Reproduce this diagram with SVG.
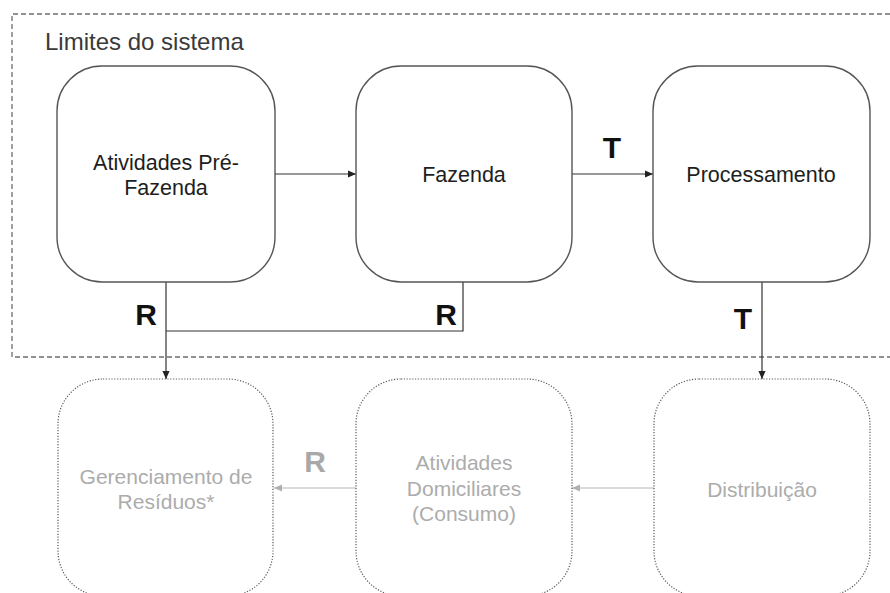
<svg xmlns="http://www.w3.org/2000/svg" width="890" height="593" viewBox="0 0 890 593">
<style>
  text { font-family: "Liberation Sans", Arial, sans-serif; }
  .node { fill: #ffffff; stroke: #555555; stroke-width: 1.4; }
  .ext { fill: none; stroke: #5a5a5a; stroke-width: 1.2; stroke-dasharray: 1.2 1.6; }
  .lbl { font-size: 21.5px; fill: #1e1e1e; text-anchor: middle; }
  .glbl { font-size: 21px; fill: #acacac; text-anchor: middle; }
  .edge { fill: none; stroke: #333333; stroke-width: 1.2; }
  .gedge { fill: none; stroke: #b8b8b8; stroke-width: 1.2; }
  .tag { font-size: 30px; font-weight: bold; fill: #111111; text-anchor: middle; }
  .gtag { font-size: 30px; font-weight: bold; fill: #a8a8a8; text-anchor: middle; }
  .boundary { fill: none; stroke: #6e6e6e; stroke-width: 1.3; stroke-dasharray: 5 3; }
</style>
<defs>
  <marker id="ah" viewBox="0 0 10 10" refX="10" refY="5" markerWidth="11" markerHeight="8" markerUnits="userSpaceOnUse" orient="auto">
    <path d="M0,0.5 L10,5 L0,9.5 z" fill="#222222"/>
  </marker>
  <marker id="gah" viewBox="0 0 10 10" refX="10" refY="5" markerWidth="11" markerHeight="8" markerUnits="userSpaceOnUse" orient="auto">
    <path d="M0,0.5 L10,5 L0,9.5 z" fill="#b0b0b0"/>
  </marker>
</defs>
<rect width="890" height="593" fill="#ffffff"/>

<g id="boundary">
  <path class="boundary" d="M890,14 H12 V357 H890"/>
  <text x="45" y="50" font-size="24" fill="#3a3a3a">Limites do sistema</text>
</g>

<g id="connectors">
  <line class="edge" x1="275" y1="174" x2="356" y2="174" marker-end="url(#ah)"/>
  <line class="edge" x1="572" y1="174" x2="653" y2="174" marker-end="url(#ah)"/>
  <line class="edge" x1="166" y1="282" x2="166" y2="379" marker-end="url(#ah)"/>
  <polyline class="edge" points="463,282 463,331 166,331"/>
  <line class="edge" x1="762" y1="282" x2="762" y2="379" marker-end="url(#ah)"/>
  <line class="gedge" x1="654" y1="488" x2="572" y2="488" marker-end="url(#gah)"/>
  <line class="gedge" x1="356" y1="488" x2="274" y2="488" marker-end="url(#gah)"/>
  <text class="tag" x="612" y="158">T</text>
  <text class="tag" x="146" y="325">R</text>
  <text class="tag" x="446" y="325">R</text>
  <text class="tag" x="743" y="329">T</text>
  <text class="gtag" x="315" y="472">R</text>
</g>

<g id="pre-fazenda">
  <rect class="node" x="57" y="66" width="218" height="216" rx="45" ry="45"/>
  <text class="lbl" x="166" y="170">Atividades Pré-</text>
  <text class="lbl" x="166" y="195">Fazenda</text>
</g>

<g id="fazenda">
  <rect class="node" x="356" y="66" width="216" height="216" rx="45" ry="45"/>
  <text class="lbl" x="464" y="182">Fazenda</text>
</g>

<g id="processamento">
  <rect class="node" x="653" y="66" width="217" height="216" rx="45" ry="45"/>
  <text class="lbl" x="761" y="182">Processamento</text>
</g>

<g id="gerenciamento">
  <rect class="ext" x="58" y="379" width="215" height="217" rx="45" ry="45"/>
  <text class="glbl" x="166" y="484">Gerenciamento de</text>
  <text class="glbl" x="166" y="509">Resíduos*</text>
</g>

<g id="domiciliares">
  <rect class="ext" x="356" y="379" width="216" height="217" rx="45" ry="45"/>
  <text class="glbl" x="464" y="470">Atividades</text>
  <text class="glbl" x="464" y="496">Domiciliares</text>
  <text class="glbl" x="464" y="521">(Consumo)</text>
</g>

<g id="distribuicao">
  <rect class="ext" x="654" y="379" width="216" height="217" rx="45" ry="45"/>
  <text class="glbl" x="762" y="497">Distribuição</text>
</g>
</svg>
